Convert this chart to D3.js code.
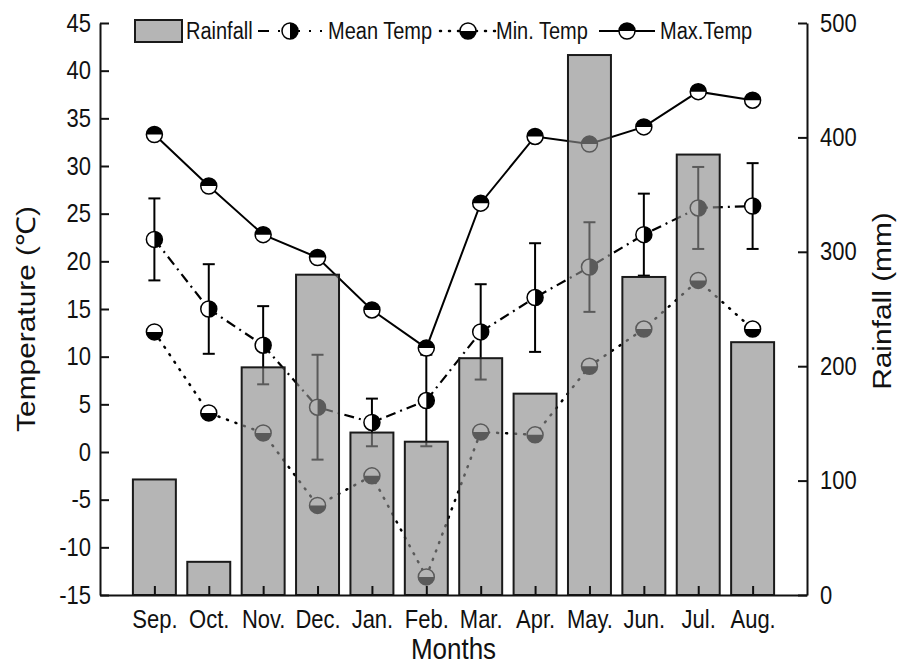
<!DOCTYPE html>
<html>
<head>
<meta charset="utf-8">
<script src="https://cdn.jsdelivr.net/npm/d3@7"></script>
<style>
  body { margin: 0; background: #fff; }
  svg { display: block; }
  text { font-family: "Liberation Sans", Arial, sans-serif; fill: #111; }
</style>
</head>
<body>
<svg id="chart" width="911" height="669"></svg>
<script>
// values
const months = ["Sep.", "Oct.", "Nov.", "Dec.", "Jan.", "Feb.", "Mar.", "Apr.", "May.", "Jun.", "Jul.", "Aug."];
const rainfall = [101, 29, 199, 280, 142, 134, 207, 176, 472, 278, 385, 221];
const maxTemp = [33.3, 27.9, 22.8, 20.4, 14.9, 10.9, 26.1, 33.1, 32.3, 34.1, 37.8, 36.9];
const meanTemp = [22.3, 15.0, 11.2, 4.7, 3.1, 5.4, 12.6, 16.2, 19.4, 22.8, 25.6, 25.8];
const meanErr = [4.3, 4.7, 4.1, 5.5, 2.5, 4.8, 5.0, 5.7, 4.7, 4.3, 4.3, 4.5];
const minTemp = [12.6, 4.1, 2.0, -5.6, -2.5, -13.1, 2.1, 1.8, 9.0, 12.9, 18.0, 12.9];
const tempTicks = d3.range(-15, 46, 5);
const rainTicks = [0, 100, 200, 300, 400, 500];

const svg = d3.select("#chart");
const pL = 100, pR = 807, pT = 23, pB = 595;
const sy = 1.15; // text in the figure is a bit taller than plain Arial

const x = d3.scalePoint().domain(months).range([pL, pR]).padding(1);
const yT = d3.scaleLinear().domain([-15, 45]).range([pB, pT]);
const yR = d3.scaleLinear().domain([0, 500]).range([pB, pT]);
const barW = x.step() * 0.79;
const r = 8;

// lines
const line = vals => d3.line().x((d, i) => x(months[i])).y(d => yT(d))(vals);

svg.append("path").attr("d", line(minTemp))
  .attr("fill", "none").attr("stroke", "#000").attr("stroke-width", 2.5)
  .attr("stroke-dasharray", "1,8").attr("stroke-linecap", "round");
svg.append("path").attr("d", line(meanTemp))
  .attr("fill", "none").attr("stroke", "#000").attr("stroke-width", 2.2)
  .attr("stroke-dasharray", "10,5,2,5");
svg.append("path").attr("d", line(maxTemp))
  .attr("fill", "none").attr("stroke", "#000").attr("stroke-width", 2);

// error bars on the mean
const err = svg.append("g").attr("stroke", "#000").attr("stroke-width", 2);
meanTemp.forEach((m, i) => {
  const cx = x(months[i]);
  err.append("line").attr("x1", cx).attr("x2", cx)
    .attr("y1", yT(m + meanErr[i])).attr("y2", yT(m - meanErr[i]));
  [m + meanErr[i], m - meanErr[i]].forEach(v => {
    err.append("line").attr("x1", cx - 6).attr("x2", cx + 6)
      .attr("y1", yT(v)).attr("y2", yT(v));
  });
});

// half-filled circle markers
const halves = {
  top: `M${-r},0A${r},${r} 0 0 1 ${r},0Z`,
  bottom: `M${-r},0A${r},${r} 0 0 0 ${r},0Z`,
  right: `M0,${-r}A${r},${r} 0 0 1 0,${r}Z`
};
function marker(g, cx, cy, half) {
  const m = g.append("g").attr("transform", `translate(${cx},${cy})`);
  m.append("circle").attr("r", r).attr("fill", "#fff");
  m.append("path").attr("d", halves[half]).attr("fill", "#000");
  m.append("circle").attr("r", r).attr("fill", "none").attr("stroke", "#000").attr("stroke-width", 1.5);
}
const mk = svg.append("g");
minTemp.forEach((v, i) => marker(mk, x(months[i]), yT(v), "bottom"));
meanTemp.forEach((v, i) => marker(mk, x(months[i]), yT(v), "right"));
maxTemp.forEach((v, i) => marker(mk, x(months[i]), yT(v), "top"));

// rainfall bars, drawn over the lines with some transparency
const bars = svg.append("g");
bars.selectAll("rect.fill").data(rainfall).join("rect")
  .attr("x", (d, i) => x(months[i]) - barW / 2)
  .attr("width", barW)
  .attr("y", d => yR(d))
  .attr("height", d => pB - yR(d))
  .attr("fill", "rgb(140,140,140)").attr("fill-opacity", 0.645);
bars.selectAll("rect.edge").data(rainfall).join("rect")
  .attr("x", (d, i) => x(months[i]) - barW / 2)
  .attr("width", barW)
  .attr("y", d => yR(d))
  .attr("height", d => pB - yR(d))
  .attr("fill", "none").attr("stroke", "#1a1a1a").attr("stroke-width", 2);

// axes, ticks pointing inward
const fs = 22;
const axL = svg.append("g").attr("transform", `translate(${pL},0)`)
  .call(d3.axisLeft(yT).tickValues(tempTicks).tickFormat(d => String(d))
    .tickSize(-9).tickSizeOuter(0).tickPadding(9));
const axR = svg.append("g").attr("transform", `translate(${pR},0)`)
  .call(d3.axisRight(yR).tickValues(rainTicks).tickFormat(d => String(d))
    .tickSize(-9).tickSizeOuter(0).tickPadding(13));
const axB = svg.append("g").attr("transform", `translate(0,${pB})`)
  .call(d3.axisBottom(x).tickSize(-9).tickSizeOuter(0).tickPadding(15));
[axL, axR, axB].forEach(a => {
  a.selectAll("path, line").attr("stroke", "#111").attr("stroke-width", 2);
  a.selectAll("text").attr("font-size", fs).attr("fill", "#111")
    .style("font-family", '"Liberation Sans", Arial, sans-serif')
    .attr("transform", function () {
      const tx = +this.getAttribute("x") || 0, ty = +this.getAttribute("y") || 0;
      return `translate(${tx},${ty}) scale(1,${sy}) translate(${-tx},${-ty})`;
    });
});

// axis titles
const tfs = 26;
svg.append("text").attr("transform", `translate(35,${(pT + pB) / 2 + 10}) scale(1,${sy}) rotate(-90)`)
  .attr("text-anchor", "middle").attr("font-size", tfs).text("Temperature (℃)");
svg.append("text").attr("transform", `translate(891,${(pT + pB) / 2 - 8}) scale(1,${sy}) rotate(-90)`)
  .attr("text-anchor", "middle").attr("font-size", tfs).text("Rainfall (mm)");
svg.append("text").attr("transform", `translate(${(pL + pR) / 2},659) scale(1,${sy})`)
  .attr("text-anchor", "middle").attr("font-size", tfs).text("Months");

// legend
const lg = svg.append("g");
const ly = 31, lfs = 20;
const legendText = (lx, label) => lg.append("text")
  .attr("transform", `translate(${lx},${ly + 8}) scale(1,${sy})`)
  .attr("font-size", lfs).text(label);
lg.append("rect").attr("x", 135).attr("y", 20).attr("width", 47).attr("height", 22)
  .attr("fill", "#b5b5b5").attr("stroke", "#1a1a1a").attr("stroke-width", 2);
legendText(186, "Rainfall");
lg.append("line").attr("x1", 258).attr("x2", 322).attr("y1", ly).attr("y2", ly)
  .attr("stroke", "#000").attr("stroke-width", 2.2).attr("stroke-dasharray", "11,9,0,0,2,9");
marker(lg, 290, ly, "right");
legendText(328, "Mean Temp");
lg.append("line").attr("x1", 440).attr("x2", 496).attr("y1", ly).attr("y2", ly)
  .attr("stroke", "#000").attr("stroke-width", 2.5).attr("stroke-dasharray", "1,8").attr("stroke-linecap", "round");
marker(lg, 468, ly, "bottom");
legendText(496, "Min. Temp");
lg.append("line").attr("x1", 599).attr("x2", 655).attr("y1", ly).attr("y2", ly)
  .attr("stroke", "#000").attr("stroke-width", 2);
marker(lg, 627, ly, "top");
legendText(660, "Max.Temp");
</script>
</body>
</html>
